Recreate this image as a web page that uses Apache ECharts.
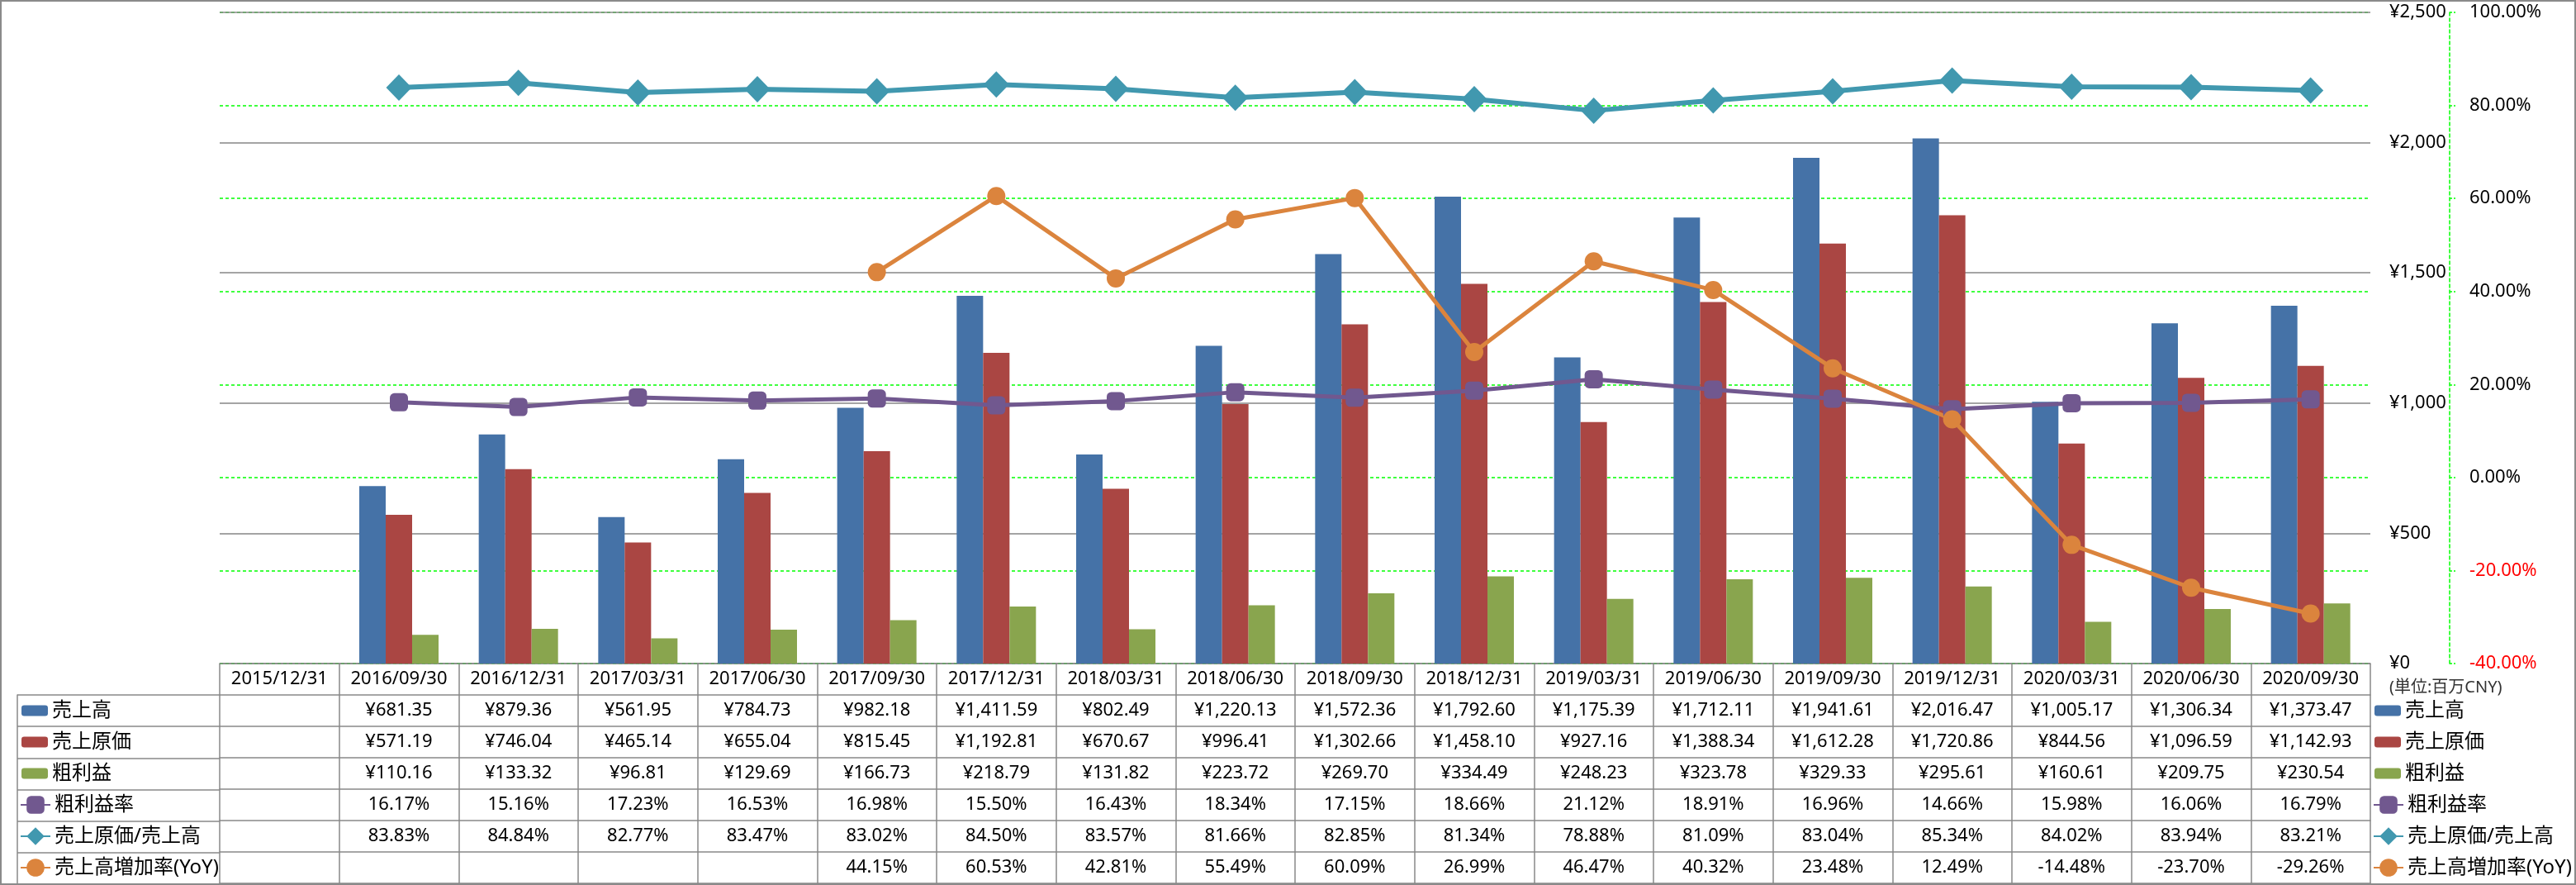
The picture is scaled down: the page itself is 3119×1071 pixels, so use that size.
<!DOCTYPE html>
<html>
<head>
<meta charset="utf-8">
<script src="https://cdn.jsdelivr.net/npm/echarts@6/dist/echarts.min.js"></script>
<style>
html,body{margin:0;padding:0;background:#fff;}
#c{width:3119px;height:1071px;}
</style>
</head>
<body>
<div id="c"></div>
<script>
const categories = ['2015/12/31','2016/09/30','2016/12/31','2017/03/31','2017/06/30','2017/09/30','2017/12/31','2018/03/31','2018/06/30','2018/09/30','2018/12/31','2019/03/31','2019/06/30','2019/09/30','2019/12/31','2020/03/31','2020/06/30','2020/09/30'];
const sales = [null,681.35,879.36,561.95,784.73,982.18,1411.59,802.49,1220.13,1572.36,1792.60,1175.39,1712.11,1941.61,2016.47,1005.17,1306.34,1373.47];
const cost = [null,571.19,746.04,465.14,655.04,815.45,1192.81,670.67,996.41,1302.66,1458.10,927.16,1388.34,1612.28,1720.86,844.56,1096.59,1142.93];
const profit = [null,110.16,133.32,96.81,129.69,166.73,218.79,131.82,223.72,269.70,334.49,248.23,323.78,329.33,295.61,160.61,209.75,230.54];
const marginRate = [null,16.17,15.16,17.23,16.53,16.98,15.50,16.43,18.34,17.15,18.66,21.12,18.91,16.96,14.66,15.98,16.06,16.79];
const costRatio = [null,83.83,84.84,82.77,83.47,83.02,84.50,83.57,81.66,82.85,81.34,78.88,81.09,83.04,85.34,84.02,83.94,83.21];
const yoy = [null,null,null,null,null,44.15,60.53,42.81,55.49,60.09,26.99,46.47,40.32,23.48,12.49,-14.48,-23.70,-29.26];
const moneyTicks = {min:0,max:2500,interval:500};
const pctTicks = {min:-40,max:100,interval:20};

const names = ['売上高','売上原価','粗利益','粗利益率','売上原価/売上高','売上高増加率(YoY)'];
const colors = ['#4572A7','#AA4643','#89A54E','#71588F','#4198AF','#DB843D'];

const FONT = '"Noto Sans","Noto Sans CJK JP",sans-serif';
const GRAY = '#898989';
const GREEN = '#00FF00';

function money(v){ return v==null ? '' : '¥' + v.toLocaleString('en-US',{minimumFractionDigits:2,maximumFractionDigits:2}); }
function pct(v){ return v==null ? '' : v.toFixed(2) + '%'; }

const rows = [
  sales.map(money), cost.map(money), profit.map(money),
  marginRate.map(pct), costRatio.map(pct), yoy.map(pct)
];

const ROW_H = 38;
const xAxes = [];
// header row (dates)
xAxes.push({
  type:'category', gridIndex:0, data:categories, position:'bottom', offset:0,
  boundaryGap:true,
  axisLine:{show:true,onZero:false,lineStyle:{color:GRAY,width:1.5}},
  axisTick:{show:true,length:ROW_H,interval:0,alignWithLabel:false,lineStyle:{color:GRAY,width:1.5}},
  axisLabel:{show:true,interval:0,margin:0,fontSize:22,lineHeight:ROW_H,color:'#000',fontFamily:FONT},
  splitLine:{show:false}
});
rows.forEach((r,i)=>{
  xAxes.push({
    type:'category', gridIndex:0, data:categories, position:'bottom', offset:ROW_H*(i+1),
    boundaryGap:true,
    axisLine:{show:true,onZero:false,lineStyle:{color:GRAY,width:1.5}},
    axisTick:{show:true,length:ROW_H,interval:0,alignWithLabel:false,lineStyle:{color:GRAY,width:1.5}},
    axisLabel:{show:true,interval:0,margin:0,fontSize:22,lineHeight:ROW_H,color:'#000',fontFamily:FONT,
      formatter:(v,idx)=>r[idx]},
    splitLine:{show:false}
  });
});
// bottom border of table
xAxes.push({
  type:'category', gridIndex:0, data:categories, position:'bottom', offset:ROW_H*7,
  axisLine:{show:true,onZero:false,lineStyle:{color:GRAY,width:1.5}},
  axisTick:{show:false}, axisLabel:{show:false}, splitLine:{show:false}
});
// left label-column grid x axis (hidden)
xAxes.push({type:'value', gridIndex:1, show:false});

const legendText = {fontSize:24,lineHeight:ROW_H,color:'#000',fontFamily:FONT};
function legendPair(left){
  return [
    {data:names.slice(0,3), orient:'vertical', left:left, top:841, padding:0, itemGap:0,
     itemWidth:32, itemHeight:13, textStyle:legendText, selectedMode:false},
    {data:names.slice(3), orient:'vertical', left:left-2, top:841+ROW_H*3, padding:0, itemGap:0,
     itemWidth:36, itemHeight:27, textStyle:legendText, selectedMode:false}
  ];
}

const option = {
  animation:false,
  textStyle:{fontFamily:FONT},
  color:colors,
  title:{text:'(単位:百万CNY)', left:2888, top:817,
    textStyle:{fontSize:20,fontWeight:'normal',color:'#333',fontFamily:FONT}},
  legend:[...legendPair(26), ...legendPair(2875)],
  grid:[
    {left:266, right:249, top:15, bottom:268, containLabel:false},
    {left:21, top:841, width:245, height:229, containLabel:false}
  ],
  xAxis:xAxes,
  yAxis:[
    {type:'value', gridIndex:0, position:'right', z:2, min:moneyTicks.min, max:moneyTicks.max, interval:moneyTicks.interval,
     axisLine:{show:false}, axisTick:{show:false},
     splitLine:{show:true,lineStyle:{color:'#868686',width:1.5}},
     axisLabel:{margin:23,fontSize:22,color:'#000',fontFamily:FONT,
       formatter:v=>'¥'+v.toLocaleString('en-US')}},
    {type:'value', gridIndex:0, position:'right', z:1, offset:96, min:pctTicks.min, max:pctTicks.max, interval:pctTicks.interval,
     axisLine:{show:true,onZero:false,lineStyle:{color:GREEN,width:1.5,type:[4,3]}},
     axisTick:{show:true,inside:false,length:7,lineStyle:{color:GREEN,width:1.5,type:[3,2]}},
     splitLine:{show:true,lineStyle:{color:GREEN,width:1.5,type:[4,3]}},
     axisLabel:{margin:24,fontSize:22,fontFamily:FONT,
       color:(v)=> (Number(v) < 0 ? '#FF0000' : '#000'),
       formatter:v=>v.toFixed(2)+'%'}},
    {type:'category', gridIndex:1, inverse:true, data:['a','b','c','d','e','f'], boundaryGap:true,
     axisLine:{show:true,onZero:false,lineStyle:{color:GRAY,width:1.5}},
     axisTick:{show:false}, axisLabel:{show:false},
     splitLine:{show:true,interval:0,lineStyle:{color:GRAY,width:1.5}}}
  ],
  graphic:[{type:'rect', silent:true, z:100,
    shape:{x:1,y:1,width:3117,height:1069},
    style:{fill:'none',stroke:'#8a8a8a',lineWidth:2}}],
  series:[
    {name:names[0], type:'bar', data:sales, barWidth:32, barGap:'0%', xAxisIndex:0, yAxisIndex:0,
     itemStyle:{color:colors[0]}},
    {name:names[1], type:'bar', data:cost, barWidth:32, barGap:'0%', xAxisIndex:0, yAxisIndex:0,
     itemStyle:{color:colors[1]}},
    {name:names[2], type:'bar', data:profit, barWidth:32, barGap:'0%', xAxisIndex:0, yAxisIndex:0,
     itemStyle:{color:colors[2]}},
    {name:names[3], type:'line', data:marginRate, xAxisIndex:0, yAxisIndex:1, z:5,
     symbol:'roundRect', symbolSize:22, showAllSymbol:true,
     lineStyle:{color:colors[3],width:5}, itemStyle:{color:colors[3]}},
    {name:names[4], type:'line', data:costRatio, xAxisIndex:0, yAxisIndex:1, z:5,
     symbol:'diamond', symbolSize:[31,32], showAllSymbol:true,
     lineStyle:{color:colors[4],width:6}, itemStyle:{color:colors[4]}},
    {name:names[5], type:'line', data:yoy, xAxisIndex:0, yAxisIndex:1, z:5,
     symbol:'circle', symbolSize:22, showAllSymbol:true,
     lineStyle:{color:colors[5],width:5}, itemStyle:{color:colors[5]}}
  ]
};
const chart = echarts.init(document.getElementById('c'), null, {renderer:'canvas'});
chart.setOption(option);
</script>
</body>
</html>
